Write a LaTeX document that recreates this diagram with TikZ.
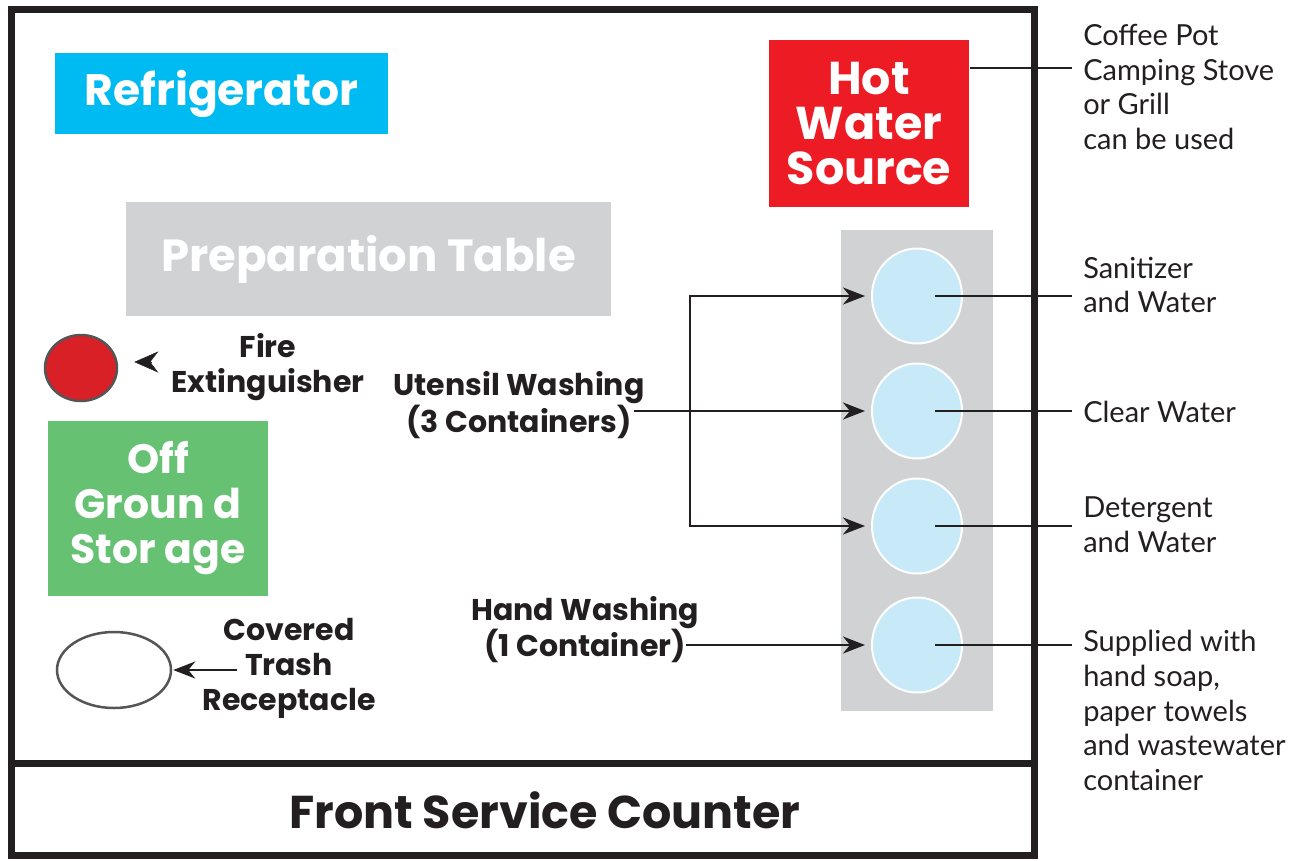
\documentclass[tikz,border=0pt]{standalone}
\usepackage{fontspec}
\setmainfont{Lato}
\newfontfamily\heavy{Poppins}
\usepackage{tikz}
\usetikzlibrary{arrows.meta,shapes.geometric,positioning}

\definecolor{fridgeblue}{RGB}{0,187,241}
\definecolor{tablegray}{RGB}{209,210,212}
\definecolor{hotred}{RGB}{237,28,36}
\definecolor{storegreen}{RGB}{102,193,115}
\definecolor{waterblue}{RGB}{199,233,248}
\definecolor{firered}{RGB}{218,32,39}
\definecolor{rimgray}{RGB}{85,85,87}
\definecolor{ink}{RGB}{35,31,32}

\begin{document}
\begin{tikzpicture}[x=1pt, y=-1pt, draw=ink, text=ink, line width=2.5pt,
	area/.style={inner sep=0, text=white, align=center, font=\heavy\bfseries\fontsize{41}{45}\selectfont},
	tag/.style={inner sep=0, align=center, font=\heavy\bfseries\fontsize{30}{35}\selectfont},
	note/.style={inner xsep=10pt, inner ysep=0pt, anchor=west, align=left, font=\fontsize{29}{34.7}\selectfont},
	tub/.style={ellipse, fill=waterblue, draw=white, line width=2pt, minimum width=90pt, minimum height=95pt},
	tip/.style={-{Stealth[length=22pt, width=17pt, inset=7pt]}}]
	\useasboundingbox (0,0) rectangle (1299,860);

	% walls and counter
	\draw[line width=7pt] (11,9) rectangle (1034,855);
	\draw[line width=7pt] (11,763) -- (1034,763);
	\node (counter) [font=\heavy\bfseries\fontsize{46}{45}\selectfont] at (545,810) {Front Service Counter};

	\node (fridge) [area, fill=fridgeblue, minimum width=333pt, minimum height=81pt, font=\heavy\bfseries\fontsize{44}{45}\selectfont] at (221.5,93.5) {Refrigerator};
	\node (prep) [area, fill=tablegray, minimum width=485pt, minimum height=114pt, font=\heavy\bfseries\fontsize{45}{45}\selectfont] at (368.5,259) {Preparation Table};
	\node (hot) [area, fill=hotred, minimum width=200pt, minimum height=167pt, font=\heavy\bfseries\fontsize{46}{45}\selectfont] at (869,123.5) {Hot\\Water\\Source};
	\node (store) [area, fill=storegreen, minimum width=220pt, minimum height=175pt] at (158,508.5) {Off\\Groun d\\Stor age};

	% sink column
	\node (sink) [fill=tablegray, minimum width=152pt, minimum height=481pt, inner sep=0] at (917,470.5) {};
	\foreach \i/\y in {1/296, 2/411, 3/526, 4/645} {
		\node (c\i) [tub] at (917,\y) {};
	}

	% labels outside
	\node (hotlab) [note] at (1072,87) {Coffee Pot\\Camping Stove\\or Grill\\can be used};
	\node (lab1) [note] at (1072,285) {Sanitizer\\and Water};
	\node (lab2) [note] at (1072,412) {Clear Water};
	\node (lab3) [note] at (1072,525) {Detergent\\and Water};
	\node (lab4) [note] at (1072,710.5) {Supplied with\\hand soap,\\paper towels\\and wastewater\\container};

	\coordinate (hotout) at ([yshift=55.5pt]hot.east);
	\draw (hotout) -- (hotout -| hotlab.west);
	\foreach \i in {1,...,4} {
		\draw ([xshift=18pt]c\i.center) -- (lab\i.west |- c\i);
	}

	% fire extinguisher and trash
	\node (fire) [ellipse, fill=firered, draw=rimgray, minimum width=72pt, minimum height=66pt] at (81,368) {};
	\node (firelab) [tag] at (268,367.5) {Fire\\Extinguisher};
	\coordinate (firetip) at ([xshift=16pt, yshift=6pt]fire.east);
	\draw[-{Stealth[length=24pt, width=21pt, inset=8pt]}, line width=0.5pt] ([xshift=18pt]firetip) -- (firetip);

	\node (trash) [ellipse, fill=white, draw=rimgray, minimum width=114pt, minimum height=76pt] at (114,670) {};
	\node (trashlab) [tag] at (289,668) {Covered\\Trash\\Receptacle};
	\draw[tip] ([xshift=65pt]trash.east) -- ([xshift=1pt]trash.east);

	% washing
	\node (ut) [tag] at (519,405) {Utensil Washing\\(3 Containers)};
	\node (hw) [tag] at (585,629.5) {Hand Washing\\(1 Container)};
	\coordinate (utout) at ([xshift=-12pt]ut.east);
	\coordinate (fork) at (690,411);
	\draw[tip] (utout |- c2) -- ([xshift=-6pt]c2.west);
	\draw[{Stealth[length=22pt, width=17pt, inset=7pt]}-{Stealth[length=22pt, width=17pt, inset=7pt]}] ([xshift=-6pt]c1.west) -- (fork |- c1) -- (fork |- c3) -- ([xshift=-6pt]c3.west);
	\coordinate (hwout) at ([xshift=-14pt]hw.east);
	\draw[tip] (hwout |- c4) -- ([xshift=-6pt]c4.west);
\end{tikzpicture}
\end{document}
